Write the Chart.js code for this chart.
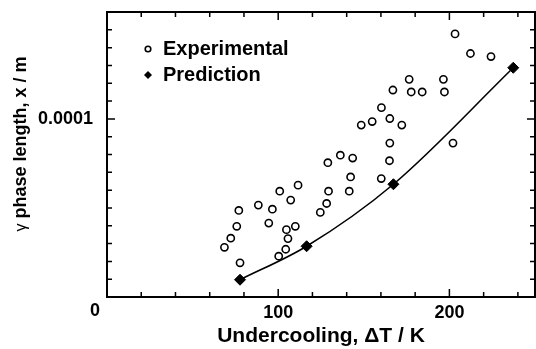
<!DOCTYPE html>
<html><head><meta charset="utf-8">
<script src="https://cdn.jsdelivr.net/npm/chart.js@4/dist/chart.umd.min.js"></script>
<style>html,body{margin:0;padding:0;background:#fff}#w{width:536px;height:349px}</style>
</head><body><div id="w"><canvas id="c"></canvas></div>
<script>
// Undercooling ΔT (K) and gamma phase length x (m)
const expUndercooling = [203.3,212.3,224.3,176.5,196.5,167.0,177.7,184.1,197.1,160.3,148.5,154.9,165.2,172.2,165.2,202.1,136.3,143.5,129.0,165.0,142.3,160.2,129.4,141.5,111.6,100.9,107.3,128.3,124.6,88.4,96.6,77.0,94.5,75.8,110.0,104.8,72.3,105.7,68.6,104.4,100.3,77.7];
const expLength = [1.477e-4,1.367e-4,1.350e-4,1.222e-4,1.222e-4,1.162e-4,1.151e-4,1.151e-4,1.151e-4,1.063e-4,0.965e-4,0.985e-4,1.002e-4,0.965e-4,0.864e-4,0.864e-4,0.796e-4,0.780e-4,0.754e-4,0.765e-4,0.674e-4,0.665e-4,0.594e-4,0.594e-4,0.628e-4,0.594e-4,0.544e-4,0.525e-4,0.475e-4,0.516e-4,0.493e-4,0.486e-4,0.415e-4,0.397e-4,0.397e-4,0.378e-4,0.330e-4,0.328e-4,0.279e-4,0.268e-4,0.229e-4,0.192e-4];
const predUndercooling = [77.7,116.6,167.3,237.3];
const predLength = [0.097e-4,0.285e-4,0.633e-4,1.287e-4];
const xLabels = {0:'0',100:'100',200:'200'};
const yLabelValue = 1e-4;
const seriesNames = ['Experimental','Prediction'];
const yTitleSymbol = 'γ';
const yTitleText = ' phase length, x / m';

const FONT = '"Liberation Sans", Arial, sans-serif';

const tickPlugin = {
  id:'ticks',
  afterDraw(chart){
    const ctx = chart.ctx, a = chart.chartArea;
    const xs = chart.scales.x, ys = chart.scales.y;
    ctx.save();
    ctx.strokeStyle='#000'; ctx.lineWidth=1.5;
    xs.ticks.forEach(t=>{
      const v=t.value; if(v<=0||v>=250) return;
      const p = xs.getPixelForValue(v);
      const L = (v%100===0)?8:5;
      ctx.beginPath();
      ctx.moveTo(p,a.bottom); ctx.lineTo(p,a.bottom-L);
      ctx.moveTo(p,a.top); ctx.lineTo(p,a.top+L);
      ctx.stroke();
    });
    ys.ticks.forEach(t=>{
      const v=t.value; if(v<=1e-9||v>=1.6e-4-1e-9) return;
      const p = ys.getPixelForValue(v);
      const L = (Math.abs(v-1e-4)<1e-9)?8:5;
      ctx.beginPath();
      ctx.moveTo(a.left,p); ctx.lineTo(a.left+L,p);
      ctx.moveTo(a.right,p); ctx.lineTo(a.right-L,p);
      ctx.stroke();
    });
    ctx.lineWidth=2;
    ctx.strokeRect(a.left,a.top,a.right-a.left,a.bottom-a.top);
    ctx.fillStyle='#000'; ctx.font='bold 18px '+FONT;
    ctx.textAlign='center'; ctx.textBaseline='top';
    ctx.fillText(xLabels[0], xs.getPixelForValue(0)-12, a.bottom+5);
    // legend
    const ds = chart.data.datasets;
    const lx = a.left+41, ly0 = a.top+37, dy = 26;
    ctx.font='bold 20px '+FONT; ctx.textAlign='left'; ctx.textBaseline='middle';
    ctx.beginPath(); ctx.lineWidth=1.6; ctx.strokeStyle='#000'; ctx.fillStyle='#fff';
    ctx.arc(lx, ly0, 2.8, 0, Math.PI*2); ctx.fill(); ctx.stroke();
    ctx.fillStyle='#000'; ctx.fillText(ds[0].label, lx+15, ly0);
    const ly1 = ly0+dy, r=4;
    ctx.beginPath(); ctx.moveTo(lx,ly1-r); ctx.lineTo(lx+r,ly1); ctx.lineTo(lx,ly1+r); ctx.lineTo(lx-r,ly1); ctx.closePath(); ctx.fill();
    ctx.fillText(ds[1].label, lx+15, ly1);
    // y title
    ctx.translate(21, 144); ctx.rotate(-Math.PI/2);
    ctx.font='16px '+FONT; const w1 = ctx.measureText(yTitleSymbol).width;
    ctx.font='bold 18px '+FONT; const w2 = ctx.measureText(yTitleText).width;
    const sx = -(w1+w2)/2;
    ctx.textAlign='left'; ctx.textBaseline='middle';
    ctx.font='16px '+FONT; ctx.fillText(yTitleSymbol, sx, 1);
    ctx.font='bold 18px '+FONT; ctx.fillText(yTitleText, sx+w1, 0);
    ctx.restore();
  }
};

new Chart(document.getElementById('c'),{
  type:'scatter',
  data:{datasets:[
    {label:seriesNames[0], data:expUndercooling.map((x,i)=>({x:x,y:expLength[i]})),
     pointStyle:'circle', pointRadius:3.6, pointBorderWidth:1.6, borderColor:'#000', backgroundColor:'#fff', showLine:false},
    {label:seriesNames[1], data:predUndercooling.map((x,i)=>({x:x,y:predLength[i]})),
     pointStyle:'rectRot', pointRadius:5.5, pointBorderWidth:1, borderColor:'#000', backgroundColor:'#000', pointBackgroundColor:'#000',
     showLine:true, borderWidth:1.6, cubicInterpolationMode:'monotone'}
  ]},
  options:{
    responsive:true, maintainAspectRatio:false, animation:false,
    layout:{autoPadding:false, padding:{top:12,right:1,left:0,bottom:0}},
    plugins:{legend:{display:false}, tooltip:{enabled:false}},
    scales:{
      x:{type:'linear', min:0, max:250,
        grid:{display:false, drawTicks:false}, border:{display:false},
        ticks:{stepSize:20, includeBounds:false, autoSkip:false, maxRotation:0, padding:5, color:'#000',
          font:{family:FONT, size:18, weight:'bold'},
          callback:(v)=> (v!==0 && xLabels[v]!==undefined) ? xLabels[v] : ''},
        title:{display:true, text:'Undercooling, ΔT / K', color:'#000', font:{family:FONT,size:21,weight:'bold'}, padding:{top:3,bottom:0}},
        afterFit:(s)=>{s.height=52; s.paddingLeft=0; s.paddingRight=0;}
      },
      y:{type:'linear', min:0, max:1.6e-4,
        grid:{display:false, drawTicks:false}, border:{display:false},
        ticks:{stepSize:1e-5, includeBounds:false, autoSkip:false, padding:14, color:'#000',
          font:{family:FONT, size:18, weight:'bold'},
          callback:(v)=> Math.abs(v-yLabelValue)<1e-9 ? '0.0001' : ''},
        title:{display:false},
        afterFit:(s)=>{s.width=107; s.paddingTop=0; s.paddingBottom=0;}
      }
    }
  },
  plugins:[tickPlugin]
});
</script></body></html>
